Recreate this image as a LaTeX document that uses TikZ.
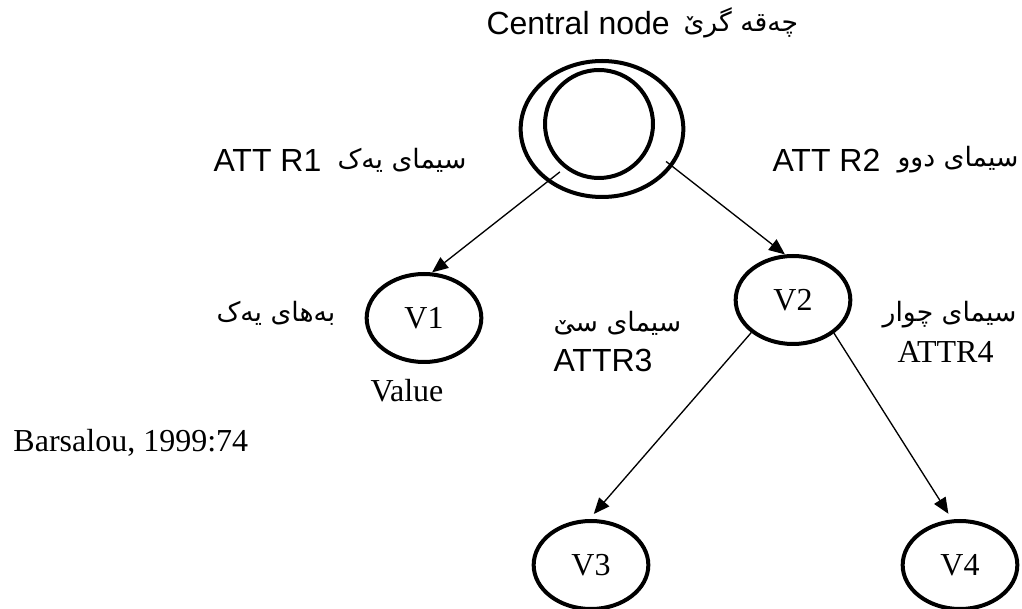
\documentclass[tikz,border=0pt]{standalone}
\usepackage{fontspec}
\setmainfont{Liberation Serif}
\newfontfamily\arialfont{Liberation Sans}
\newfontfamily\kurdfont[Script=Arabic]{DejaVu Sans}
\usetikzlibrary{shapes.geometric,arrows.meta}
\TeXXeTstate=1
\tikzset{every picture/.style={line width=0.75pt}}

\begin{document}
\begin{tikzpicture}[x=0.75pt,y=0.75pt,yscale=-1,xscale=1,
	valnode/.style={draw, ellipse, line width=3pt, minimum width=86pt, minimum height=66pt, inner sep=0pt, font=\fontsize{24}{26}\selectfont},
	link/.style={line width=1pt, -{Triangle[length=12pt,width=10pt]}},
	latlabel/.style={inner sep=0.75pt, anchor=west, font=\arialfont\fontsize{24}{26}\selectfont},
	serlabel/.style={inner sep=0.75pt, anchor=west, font=\fontsize{24}{26}\selectfont},
	kulabel/.style={inner sep=0.75pt, anchor=west, font=\kurdfont\fontsize{20}{24}\selectfont}]
	%set diagram size
	\useasboundingbox (0,0) rectangle (1022,609);
	
	%Shape: Ellipse [central node]
	\node [draw, ellipse, line width=3pt, minimum width=122pt, minimum height=102pt] (outer) at (602,129) {};
	%Shape: Circle [central node]
	\node [draw, circle, line width=3pt, minimum size=81pt] (inner) at (599,124) {};
	%Shape: Ellipse [values]
	\node [valnode] (v1) at (424,318) {V1};
	\node [valnode] (v2) at (793,300) {V2};
	\node [valnode] (v3) at (591,565) {V3};
	\node [valnode] (v4) at (960,565) {V4};
	
	\draw [link, shorten <=-12pt] (outer.224) -- (v1.80);
	\draw [link, shorten <=-6pt] (outer.332) -- (v2.100);
	\draw [link, shorten >=5pt] (v2.218) -- (v3.92);
	\draw [link, shorten >=5pt] (v2.321) -- (v4.100);
	
	\node [latlabel] (cent) at (485,23) {Central node};
	\node [kulabel] (centku) at (682,23) {\beginR چەقە گرێ\endR};
	\node [latlabel] (attr1) at (212,160) {ATT R1};
	\node [kulabel] (attr1ku) at (336,160) {\beginR سیمای یەک\endR};
	\node [latlabel] (attr2) at (771,160) {ATT R2};
	\node [kulabel, anchor=east] (attr2ku) at (1020,160) {\beginR سیمای دوو\endR};
	\node [kulabel] (val1ku) at (215,313) {\beginR بەهای یەک\endR};
	\node [serlabel] (val) at (369,391) {Value};
	\node [kulabel] (attr3ku) at (552,323) {\beginR سیمای سێ\endR};
	\node [latlabel] (attr3) at (552,360) {ATTR3};
	\node [kulabel, anchor=east] (attr4ku) at (1018,315) {\beginR سیمای چوار\endR};
	\node [serlabel] (attr4) at (896,352) {ATTR4};
	\node [serlabel] (src) at (12,443) {Barsalou, 1999:74};
	
\end{tikzpicture}
\end{document}
